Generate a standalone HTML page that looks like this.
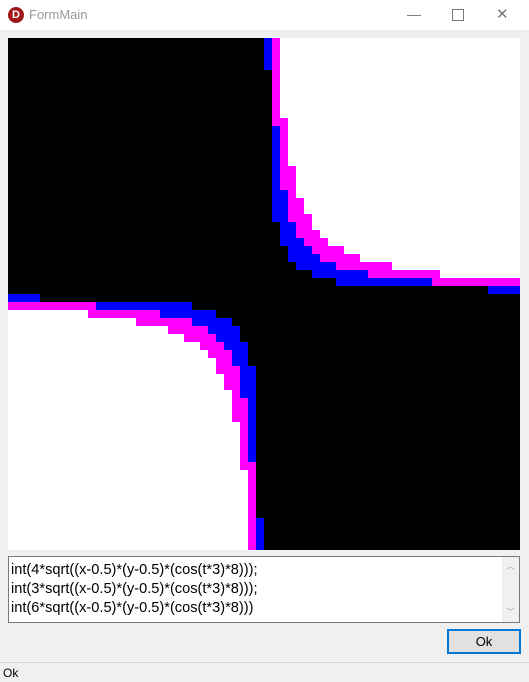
<!DOCTYPE html>
<html><head><meta charset="utf-8"><style>
body{margin:0;width:529px;height:681px;background:#f0f0f0;font-family:"Liberation Sans",sans-serif;position:relative;overflow:hidden}
#title{position:absolute;left:0;top:0;width:529px;height:30px;background:#fff}
#title .t{position:absolute;left:29px;top:7px;font-size:13px;color:#999}
#icon{position:absolute;left:8px;top:7px;width:16px;height:16px;border-radius:50%;background:#a01818;color:#fff;font-size:11px;font-weight:bold;text-align:center;line-height:16px}
.wb{position:absolute;top:6px;font-size:14px;color:#777}
#plot{position:absolute;left:8px;top:38px}
#memo{position:absolute;left:8px;top:556px;width:510px;height:65px;background:#fff;border:1px solid #7a7a7a}
#memo .ln{position:absolute;left:2px;font-size:14.6px;color:#000}
#sb{position:absolute;right:0;top:0;width:17px;height:65px;background:#f0f0f0}
#ok{position:absolute;left:447px;top:629px;width:70px;height:21px;border:2px solid #0078d7;background:#e1e1e1;font-size:13px;text-align:center;line-height:21px;box-sizing:content-box}
#status{position:absolute;left:0;top:662px;width:529px;height:19px;border-top:1px solid #d7d7d7}
#status span{position:absolute;left:3px;top:3px;font-size:12px}
</style></head><body>
<div id="title">
<div id="icon">D</div>
<span class="t">FormMain</span>
<span class="wb" style="left:407px">—</span>
<span class="wb" style="left:452px;width:10px;height:10px;border:1px solid #777;top:9px"></span>
<span class="wb" style="left:496px;font-size:15px;top:5px;font-weight:100">✕</span>
</div>
<svg id="plot" width="512" height="512"></svg>
<div id="memo">
<div class="ln" style="top:5px">int(4*sqrt((x-0.5)*(y-0.5)*(cos(t*3)*8)));</div>
<div class="ln" style="top:24px">int(3*sqrt((x-0.5)*(y-0.5)*(cos(t*3)*8)));</div>
<div class="ln" style="top:43px">int(6*sqrt((x-0.5)*(y-0.5)*(cos(t*3)*8)))</div>
<div id="sb"><span style="position:absolute;left:4px;top:2px;font-size:9px;color:#aaa">︿</span><span style="position:absolute;left:4px;top:48px;font-size:9px;color:#aaa">﹀</span></div>
</div>
<div id="ok">Ok</div>
<div id="status"><span>Ok</span></div>
<script>
const gridSize = [64];
const levelThresholds = [14, 31.5, 55];
const levelColors = ["#000000", "#0000ff", "#ff00ff", "#ffffff"];
const svg = document.getElementById('plot');
const N = gridSize[0], cell = 512 / N;
function level(i, j) {
  const dx = i + 0.5 - N / 2, dy = N / 2 - (j + 0.5);
  const p = dx * dy;
  if (p <= 0) return 0;
  let k = 0;
  for (const t of levelThresholds) if (p > t) k++;
  return k;
}
for (let j = 0; j < N; j++) {
  let start = 0, cur = level(0, j);
  for (let i = 1; i <= N; i++) {
    const l = i < N ? level(i, j) : -1;
    if (l !== cur) {
      const r = document.createElementNS('http://www.w3.org/2000/svg', 'rect');
      r.setAttribute('x', start * cell);
      r.setAttribute('y', j * cell);
      r.setAttribute('width', (i - start) * cell);
      r.setAttribute('height', cell);
      r.setAttribute('fill', levelColors[cur]);
      
      
      svg.appendChild(r);
      start = i; cur = l;
    }
  }
}
</script>
</body></html>
